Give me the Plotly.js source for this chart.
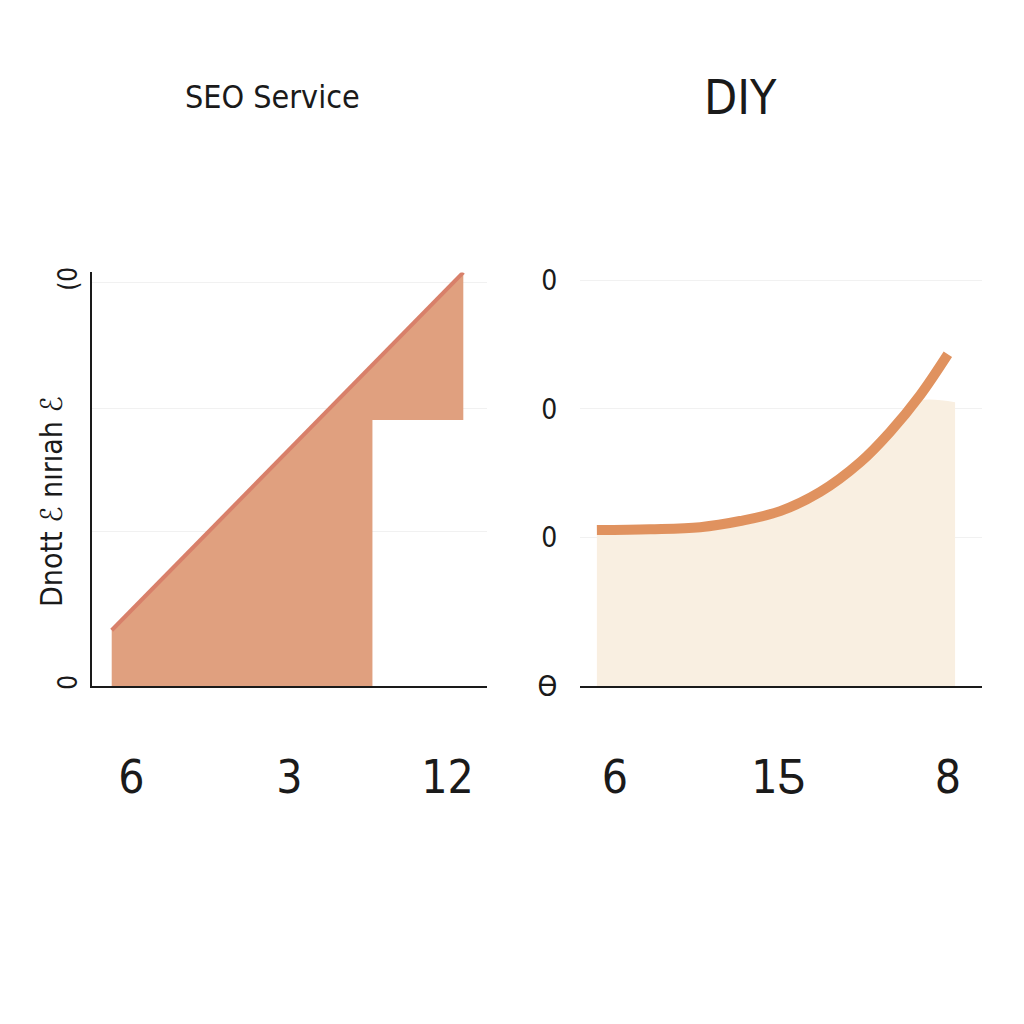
<!DOCTYPE html>
<html>
<head>
<meta charset="utf-8">
<script src="https://cdn.plot.ly/plotly-3.0.1.min.js"></script>
<style>html,body{margin:0;padding:0;background:#fff;}#chart{width:1024px;height:1024px;}</style>
</head>
<body>
<div id="chart"></div>
<script>
// ---- Data ----
const panelTitles = ["SEO Service", "DIY"];
const yAxisTitle = "Dnott ℰ nırıah ℰ";

// Left panel (SEO Service): stepped area
const seoBaseX = [0.5, 7.1, 7.1, 9.4];
const seoBaseY = [0, 0, 6.43, 6.43];
const seoTopX = [0.5, 9.4];
const seoTopY = [1.35, 10.0];
const seoTickVals = [1, 5, 9];
const seoTickText = ["6", "3", "12"];
const seoYTickVals = [0, 3.74, 6.72, 9.75];
const seoYTickText = ["0", "", "", "(0"];

// Right panel (DIY): curve and cream area
const diyLineX = [0.42, 1.74, 2.99, 3.98, 4.98, 5.97, 6.97, 7.71, 8.46, 9.15];
const diyLineY = [3.77, 3.79, 3.84, 3.99, 4.23, 4.69, 5.41, 6.14, 7.03, 8.02];
const diyAreaX = [0.42, 2.99, 3.98, 4.98, 5.97, 6.97, 7.71, 8.3, 9.33];
const diyAreaY = [3.68, 3.73, 3.88, 4.12, 4.58, 5.3, 6.03, 6.86, 6.86];
const diyTickVals = [0.87, 4.93, 9.15];
const diyTickText = ["6", "1Ƽ", "8"];
const diyYTickVals = [0, 3.6, 6.7, 9.8];
const diyYTickText = ["ϴ", "0", "0", "0"];

const NARROW = '"Liberation Sans Narrow", "DejaVu Sans Condensed", "Liberation Sans", sans-serif';

const traces = [
  {x: seoBaseX, y: seoBaseY, xaxis: 'x', yaxis: 'y', mode: 'lines', line: {width: 0, color: 'rgba(0,0,0,0)'}, hoverinfo: 'skip', showlegend: false},
  {x: seoTopX, y: seoTopY, xaxis: 'x', yaxis: 'y', mode: 'lines', fill: 'tonexty', fillcolor: '#e0a07f', line: {width: 0, color: 'rgba(0,0,0,0)'}, showlegend: false},
  {x: seoTopX, y: seoTopY, xaxis: 'x', yaxis: 'y', mode: 'lines', line: {width: 4, color: '#d8806a'}, showlegend: false},
  {x: diyAreaX, y: diyAreaY, xaxis: 'x2', yaxis: 'y2', mode: 'lines', fill: 'tozeroy', fillcolor: '#f9efe1', line: {width: 0, color: 'rgba(0,0,0,0)', shape: 'spline'}, showlegend: false},
  {x: diyLineX, y: diyLineY, xaxis: 'x2', yaxis: 'y2', mode: 'lines', line: {width: 10, color: '#e0925f', shape: 'spline'}, showlegend: false}
];

const gridCol = '#f1f1f1';
const layout = {
  width: 1024, height: 1024,
  margin: {l: 0, r: 0, t: 0, b: 0},
  paper_bgcolor: '#ffffff', plot_bgcolor: '#ffffff',
  showlegend: false,
  font: {family: NARROW, color: '#1a1a1a'},
  xaxis: {
    domain: [0.0898, 0.4756], range: [0, 10], anchor: 'y',
    showgrid: false, zeroline: false, showline: true, linecolor: '#1a1a1a', linewidth: 2,
    tickvals: seoTickVals, ticktext: seoTickText, ticks: 'outside', ticklen: 50, tickcolor: 'rgba(0,0,0,0)',
    tickfont: {size: 46, family: NARROW, color: '#1a1a1a'}
  },
  yaxis: {
    domain: [0.330, 0.734], range: [0, 10], anchor: 'x',
    showgrid: true, gridcolor: gridCol, zeroline: false, showline: true, linecolor: '#1a1a1a', linewidth: 2,
    tickvals: seoYTickVals, ticktext: seoYTickText, ticks: 'outside', ticklen: 3, tickcolor: 'rgba(0,0,0,0)',
    tickangle: -90, tickfont: {size: 26, family: NARROW, color: '#1a1a1a'}
  },
  xaxis2: {
    domain: [0.5664, 0.959], range: [0, 10], anchor: 'y2',
    showgrid: false, zeroline: false, showline: true, linecolor: '#1a1a1a', linewidth: 2,
    tickvals: diyTickVals, ticktext: diyTickText, ticks: 'outside', ticklen: 50, tickcolor: 'rgba(0,0,0,0)',
    tickfont: {size: 46, family: NARROW, color: '#1a1a1a'}
  },
  yaxis2: {
    domain: [0.330, 0.734], range: [0, 10], anchor: 'x2',
    showgrid: true, gridcolor: gridCol, zeroline: false, showline: false,
    tickvals: diyYTickVals, ticktext: diyYTickText, ticks: 'outside', ticklen: 16, tickcolor: 'rgba(0,0,0,0)',
    tickfont: {size: 28, family: NARROW, color: '#1a1a1a'}
  },
  annotations: [
    {text: panelTitles[0], xref: 'paper', yref: 'paper', x: 272/1024, y: 1 - 97/1024, xanchor: 'center', yanchor: 'middle', showarrow: false, font: {size: 32, family: NARROW, color: '#1a1a1a'}},
    {text: panelTitles[1], xref: 'paper', yref: 'paper', x: 740/1024, y: 1 - 97/1024, xanchor: 'center', yanchor: 'middle', showarrow: false, font: {size: 48, family: NARROW, color: '#1a1a1a'}},
    {text: yAxisTitle, xref: 'paper', yref: 'paper', x: 51/1024, y: 1 - 502/1024, xanchor: 'center', yanchor: 'middle', textangle: -90, showarrow: false, font: {size: 30, family: NARROW, color: '#1a1a1a'}}
  ]
};

Plotly.newPlot('chart', traces, layout, {displayModeBar: false, staticPlot: true});
</script>
</body>
</html>
